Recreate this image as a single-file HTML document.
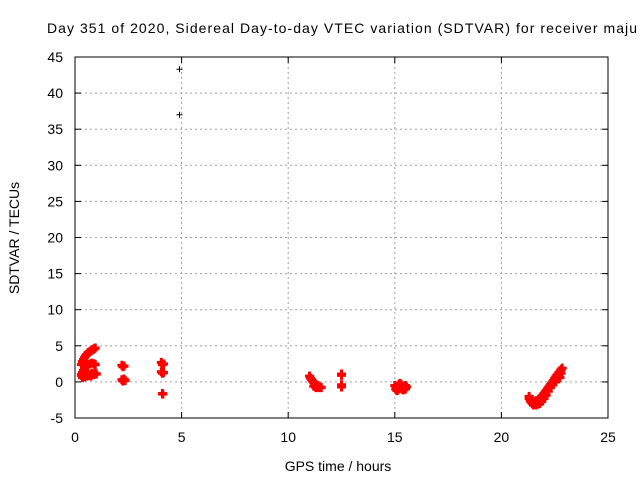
<!DOCTYPE html>
<html><head><meta charset="utf-8"><style>
body{margin:0;background:#fff;overflow:hidden;}
svg{display:block;font-family:"Liberation Sans",sans-serif;}
</style></head><body>
<svg id="chart" width="640" height="480">
<text x="47" y="33" font-size="14" text-anchor="start" textLength="590" lengthAdjust="spacing">Day 351 of 2020, Sidereal Day-to-day VTEC variation (SDTVAR) for receiver maju</text>
<text x="338" y="471" font-size="14" text-anchor="middle">GPS time / hours</text>
<text x="19" y="238" font-size="14" text-anchor="middle" transform="rotate(-90 19 238)">SDTVAR / TECUs</text>
<g id="grid"></g><g id="ticks"></g><g id="marks"></g>
<rect x="75" y="57" width="533" height="361" fill="none" stroke="#000" stroke-width="1"/>
</svg>
<script>
const xTicks=[0,5,10,15,20,25];
const yTicks=[-5,0,5,10,15,20,25,30,35,40,45];
const redTimes=[0.30,0.35,0.40,0.45,0.50,0.55,0.60,0.65,0.70,0.75,0.80,0.85,0.90,0.95,
0.30,0.35,0.40,0.45,0.50,0.55,0.60,0.70,0.80,0.90,0.95,
0.30,0.40,0.50,0.60,0.70,0.80,0.90,1.00,0.35,0.45,0.55,0.65,0.75,0.85,0.95,
2.20,2.25,2.30,2.20,2.25,2.30,2.35,
4.05,4.10,4.15,4.05,4.10,4.15,4.10,4.12,
11.00,11.05,11.10,11.15,11.20,11.25,11.30,11.35,11.40,11.45,11.50,11.55,11.20,11.30,11.40,
12.50,12.50,12.50,12.50,
15.00,15.05,15.10,15.15,15.20,15.25,15.30,15.35,15.40,15.45,15.50,15.55,15.10,15.20,15.30,15.40,15.50,15.05,15.25,15.45,
21.30,21.35,21.40,21.45,21.50,21.55,21.60,21.65,21.70,21.75,21.80,21.85,21.90,21.95,22.00,22.05,22.10,22.15,22.20,22.25,22.30,22.35,22.40,22.45,22.50,22.55,22.60,22.65,22.70,22.75,22.80,22.85,
21.40,21.50,21.60,21.70,21.80,21.90,22.00,22.10,22.20,22.30,22.40,22.50,22.60,22.70,22.80,
21.30,21.45,21.55,21.65,21.75,22.05,22.35,22.55,22.75];
const redValues=[2.4,2.8,3.1,3.4,3.6,3.8,4.0,4.1,4.2,4.3,4.4,4.5,4.6,4.7,
1.0,1.3,1.6,1.9,2.1,2.3,2.4,2.5,2.6,2.5,2.4,
0.9,0.8,1.0,1.1,1.0,1.2,1.0,1.1,0.6,0.7,0.8,0.9,0.8,1.0,1.2,
2.3,2.1,2.2,0.3,0.1,0.4,0.2,
2.7,2.4,2.5,1.4,1.2,1.3,-1.6,-1.7,
0.8,0.5,0.3,0.1,-0.1,-0.3,-0.4,-0.6,-0.7,-0.8,-0.7,-0.8,-0.6,-0.8,-0.5,
1.1,0.9,-0.4,-0.7,
-0.5,-0.9,-0.6,-1.1,-0.7,-0.9,-0.4,-1.0,-0.8,-0.6,-1.0,-0.7,-1.2,-0.3,-0.8,-1.1,-0.5,-1.0,-0.2,-0.9,
-2.3,-2.6,-2.8,-3.0,-3.0,-3.1,-3.0,-2.9,-2.8,-2.6,-2.4,-2.2,-2.0,-1.8,-1.6,-1.4,-1.2,-1.0,-0.8,-0.6,-0.4,-0.2,0.0,0.2,0.5,0.7,0.9,1.1,1.3,1.5,1.7,1.9,
-2.8,-3.2,-3.2,-3.1,-3.0,-2.7,-2.3,-1.8,-1.3,-0.8,-0.4,0.0,0.4,0.8,1.2,
-2.0,-2.5,-2.7,-2.6,-2.4,-1.9,-0.2,0.0,0.6];
const blackTimes=[4.90,4.90];
const blackValues=[43.3,37.0];
const X=h=>75+h*(533/25);
const Y=v=>418-(v+5)*(361/50);
const NS="http://www.w3.org/2000/svg";
const grid=document.getElementById('grid'),ticks=document.getElementById('ticks'),marks=document.getElementById('marks');
function mk(tag,attrs,parent){const e=document.createElementNS(NS,tag);for(const k in attrs)e.setAttribute(k,attrs[k]);parent.appendChild(e);return e;}
xTicks.forEach(t=>{
  const x=X(t);
  if(t>0&&t<25){const g=mk('line',{x1:x,x2:x,y1:57,y2:418,stroke:'#a0a0a0','stroke-dasharray':'2,3'},grid);
  
  }
  mk('line',{x1:x,x2:x,y1:418,y2:412,stroke:'#000'},ticks);
  mk('line',{x1:x,x2:x,y1:57,y2:63,stroke:'#000'},ticks);
  const l=mk('text',{x:x,y:442,'font-size':14,'text-anchor':'middle'},ticks);l.textContent=t;
  
  
});
yTicks.forEach(t=>{
  const y=Y(t);
  if(t>-5&&t<45){const g=mk('line',{x1:75,x2:608,y1:y,y2:y,stroke:'#a0a0a0','stroke-dasharray':'2,3'},grid);
  
  }
  mk('line',{x1:75,x2:81,y1:y,y2:y,stroke:'#000'},ticks);
  mk('line',{x1:602,x2:608,y1:y,y2:y,stroke:'#000'},ticks);
  const l=mk('text',{x:63,y:y+5,'font-size':14,'text-anchor':'end'},ticks);l.textContent=t;
  
  
});
function plus(h,v,color,s,w,name){
  const x=X(h),y=Y(v);
  const p=mk('path',{d:`M${x-s},${y}H${x+s}M${x},${y-s}V${y+s}`,stroke:color,'stroke-width':w,fill:'none'},marks);
  
  
}
redTimes.forEach((h,i)=>plus(h,redValues[i],'#ff0000',4.5,3,'sdtvar-point'));
blackTimes.forEach((h,i)=>plus(h,blackValues[i],'#000',3,1,'outlier-point'));
</script>
</body></html>
